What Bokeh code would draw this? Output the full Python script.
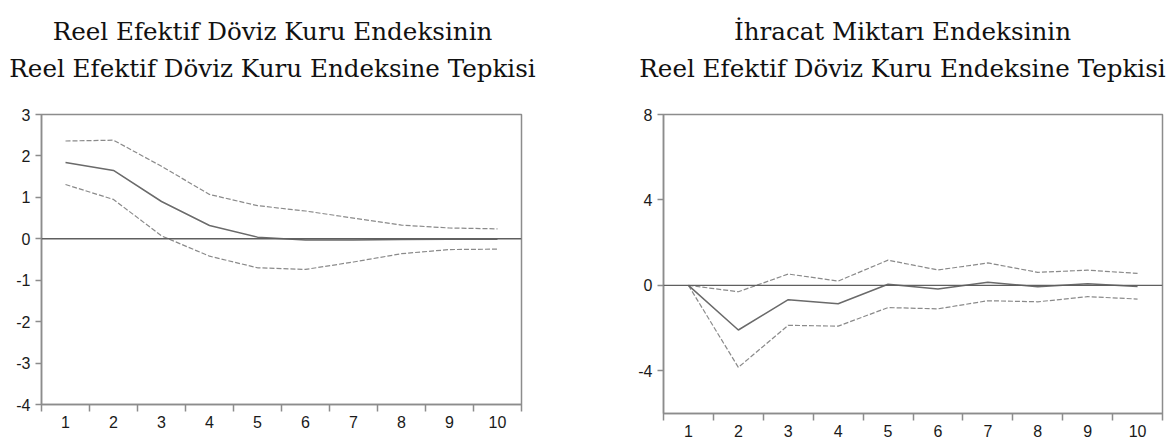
from bokeh.plotting import figure
from bokeh.models import Range1d, FixedTicker, Span
from bokeh.layouts import row, column
from bokeh.core.properties import value
from bokeh.embed import file_html
from bokeh.resources import INLINE

# ---------------- data ----------------
periods = [1, 2, 3, 4, 5, 6, 7, 8, 9, 10]
x_labels = ["1", "2", "3", "4", "5", "6", "7", "8", "9", "10"]

# Left panel: response of REER index to REER index
left_mid = [1.84, 1.65, 0.90, 0.32, 0.04, -0.03, -0.03, -0.02, -0.01, -0.01]
left_upper = [2.36, 2.38, 1.75, 1.07, 0.80, 0.67, 0.50, 0.33, 0.26, 0.24]
left_lower = [1.31, 0.95, 0.07, -0.42, -0.70, -0.74, -0.56, -0.36, -0.26, -0.25]
left_yticks = [-4, -3, -2, -1, 0, 1, 2, 3]
left_ylabels = ["-4", "-3", "-2", "-1", "0", "1", "2", "3"]

# Right panel: response of export quantity index to REER index
right_mid = [0.0, -2.09, -0.67, -0.86, 0.05, -0.17, 0.15, -0.07, 0.07, -0.05]
right_upper = [0.0, -0.30, 0.53, 0.20, 1.18, 0.72, 1.05, 0.61, 0.71, 0.56]
right_lower = [0.0, -3.84, -1.87, -1.91, -1.04, -1.10, -0.72, -0.77, -0.53, -0.64]
right_yticks = [-4, 0, 4, 8]
right_ylabels = ["-4", "0", "4", "8"]

left_title = ["Reel Efektif Döviz Kuru Endeksinin",
              "Reel Efektif Döviz Kuru Endeksine Tepkisi"]
right_title = ["İhracat Miktarı Endeksinin",
               "Reel Efektif Döviz Kuru Endeksine Tepkisi"]

FRAME = "#8c8c8c"
TICK_FONT = "Liberation Sans"
TICK_SIZE = "16px"


def make_chart(y_range, yticks, ylabels, mid, upper, lower, fw, fh, bl, br, bt, bb):
    p = figure(frame_width=fw, frame_height=fh,
               x_range=Range1d(periods[0] - 0.5, periods[-1] + 0.5),
               y_range=Range1d(*y_range),
               toolbar_location=None, output_backend="svg",
               min_border_left=bl, min_border_right=br,
               min_border_top=bt, min_border_bottom=bb)
    p.xgrid.visible = False
    p.ygrid.visible = False
    p.outline_line_color = FRAME
    p.outline_line_width = 1.5
    p.background_fill_color = "white"
    p.border_fill_color = "white"

    bounds = [k - 0.5 for k in periods] + [periods[-1] + 0.5]
    xa = p.xaxis[0]
    xa.ticker = FixedTicker(ticks=periods, minor_ticks=bounds)
    xa.major_label_overrides = {k: s for k, s in zip(periods, x_labels)}
    xa.major_tick_line_color = None
    xa.major_tick_out = 7
    xa.major_tick_in = 0
    xa.minor_tick_out = 7
    xa.minor_tick_in = 0
    xa.minor_tick_line_color = FRAME
    xa.minor_tick_line_width = 1.5
    xa.axis_line_color = FRAME
    xa.axis_line_width = 1.5
    xa.major_label_standoff = 4
    xa.major_label_text_font = TICK_FONT
    xa.major_label_text_font_size = TICK_SIZE
    xa.major_label_text_color = "#1a1a1a"

    ya = p.yaxis[0]
    ya.ticker = FixedTicker(ticks=yticks)
    ya.major_label_overrides = {k: s for k, s in zip(yticks, ylabels)}
    ya.major_tick_out = 6
    ya.major_tick_in = 0
    ya.minor_tick_line_color = None
    ya.major_tick_line_color = FRAME
    ya.major_tick_line_width = 1.5
    ya.axis_line_color = FRAME
    ya.axis_line_width = 1.5
    ya.major_label_standoff = 5
    ya.major_label_text_font = TICK_FONT
    ya.major_label_text_font_size = TICK_SIZE
    ya.major_label_text_color = "#1a1a1a"

    p.add_layout(Span(location=0, dimension="width",
                      line_color="#5f5f5f", line_width=1.4))
    p.line(periods, upper, line_color="#8a8a8a", line_width=1.2, line_dash="5 2")
    p.line(periods, lower, line_color="#8a8a8a", line_width=1.2, line_dash="5 2")
    p.line(periods, mid, line_color="#6a6a6a", line_width=1.5)
    return p


p_left = make_chart((-4, 3), left_yticks, left_ylabels,
                    left_mid, left_upper, left_lower,
                    480, 290, 41, 71, 30, 34)
p_right = make_chart((-6, 8), right_yticks, right_ylabels,
                     right_mid, right_upper, right_lower,
                     499, 299, 71, 8, 27, 29)

# Title strip (coordinates are page pixels)
TW = 592 + 71 + 499 + 8
t = figure(width=TW, height=84, x_range=Range1d(0, TW), y_range=Range1d(84, 0),
           toolbar_location=None, output_backend="svg",
           x_axis_type=None, y_axis_type=None, min_border=0)
t.xgrid.visible = False
t.ygrid.visible = False
t.outline_line_color = None
t.text(x=[272, 272, 902, 902], y=[31, 68, 31, 68],
       text=left_title + right_title,
       text_align="center", text_baseline="alphabetic",
       text_font=value("DejaVu Serif"), text_font_size="24.6px",
       text_color="#111111")

layout = column(t, row(p_left, p_right))
open("out.html", "w").write(file_html(layout, INLINE))
